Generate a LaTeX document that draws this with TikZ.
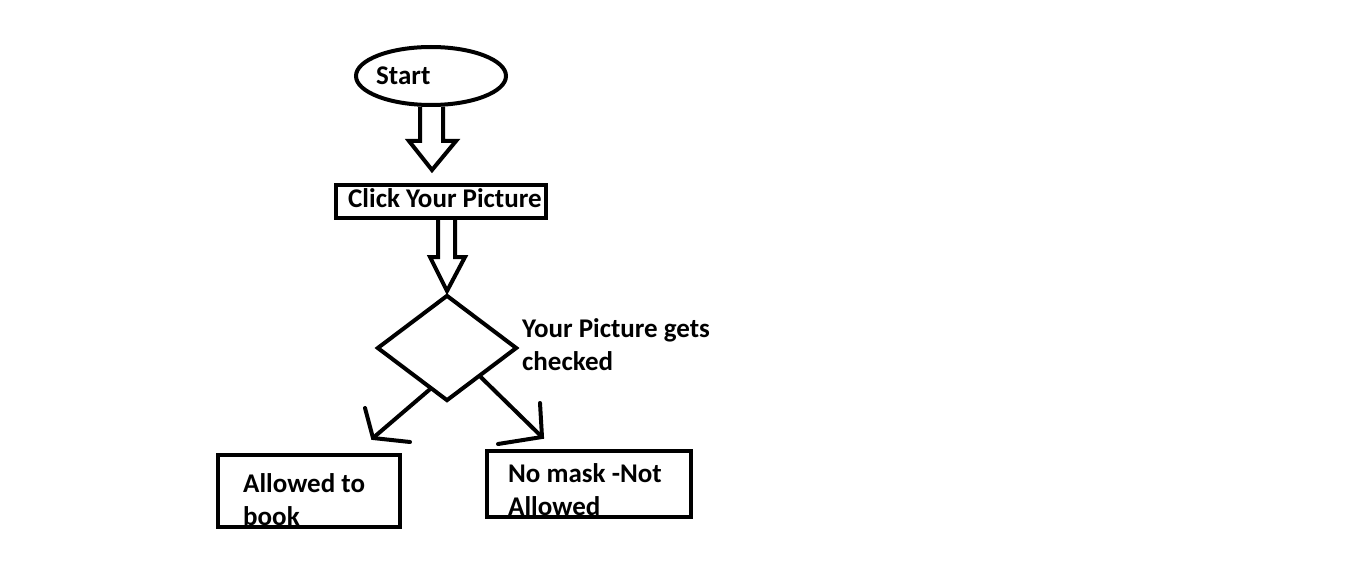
\documentclass[tikz,border=0pt]{standalone}
\usepackage{fontspec}
\setmainfont{Carlito}
\usetikzlibrary{shapes.geometric,calc}
\begin{document}
\begin{tikzpicture}[x=1pt,y=-1pt,
  every node/.style={font=\bfseries\fontsize{27}{33}\selectfont},
  shapeline/.style={draw=black,line width=4pt},
  txt/.style={anchor=base west,inner sep=0pt,align=left},
  hollow/.style={draw=black,line width=4pt,line join=miter},
  openhead/.style={draw=black,line width=4pt,line cap=round}]
\useasboundingbox[fill=white] (0,0) rectangle (1360,567);
% shapes
\node[shapeline,ellipse,minimum width=150pt,minimum height=58pt,inner sep=0pt] (start) at (431,76) {};
\node[txt] (starttxt) at (376,85) {Start};
\node[shapeline,rectangle,minimum width=210pt,minimum height=33pt,inner sep=0pt] (click) at (441,201.5) {};
\node[txt] (clicktxt) at (348,207) {Click Your Picture};
\node[shapeline,diamond,minimum width=140pt,minimum height=106pt,inner sep=0pt] (dia) at (447,348) {};
\node[txt] (diatxt) at (522,370) {Your Picture gets\\checked};
\node[txt] (lefttxt) at (243,525) {Allowed to\\book};
\node[shapeline,rectangle,minimum width=182pt,minimum height=72pt,inner sep=0pt] (left) at (309,491) {};
\node[txt] (righttxt) at (508,515) {No mask -Not\\Allowed};
\node[shapeline,rectangle,minimum width=204pt,minimum height=66pt,inner sep=0pt] (right) at (589,484) {};
% hollow arrow 1
\coordinate (t1) at ($(click.north)+(-9,-13)$);
\draw[hollow] ($(start.south)+(-11,0)$) -- ++(0,34) -- ++(-11,0) -- (t1)
  -- ($(start.south)+(25,34)$) -- ++(-13,0) -- ($(start.south)+(12,0)$);
% hollow arrow 2
\coordinate (t2) at ($(dia.north)+(0,-2)$);
\draw[hollow] ($(click.south)+(-3,0)$) -- ++(0,37) -- ++(-8,0) -- (t2)
  -- ($(click.south)+(24,37)$) -- ++(-10,0) -- ($(click.south)+(14,0)$);
% left arrow
\coordinate (lt) at (373,438);
\draw[openhead] ($(dia.west)!0.757!(dia.south)$) -- (lt);
\draw[openhead] (365,408) -- (lt) -- (410,442);
% right arrow
\coordinate (rt) at (542,437);
\draw[openhead] ($(dia.south)!0.47!(dia.east)$) -- (rt);
\draw[openhead] (540,403) -- (rt) -- (498,444);
\end{tikzpicture}
\end{document}
